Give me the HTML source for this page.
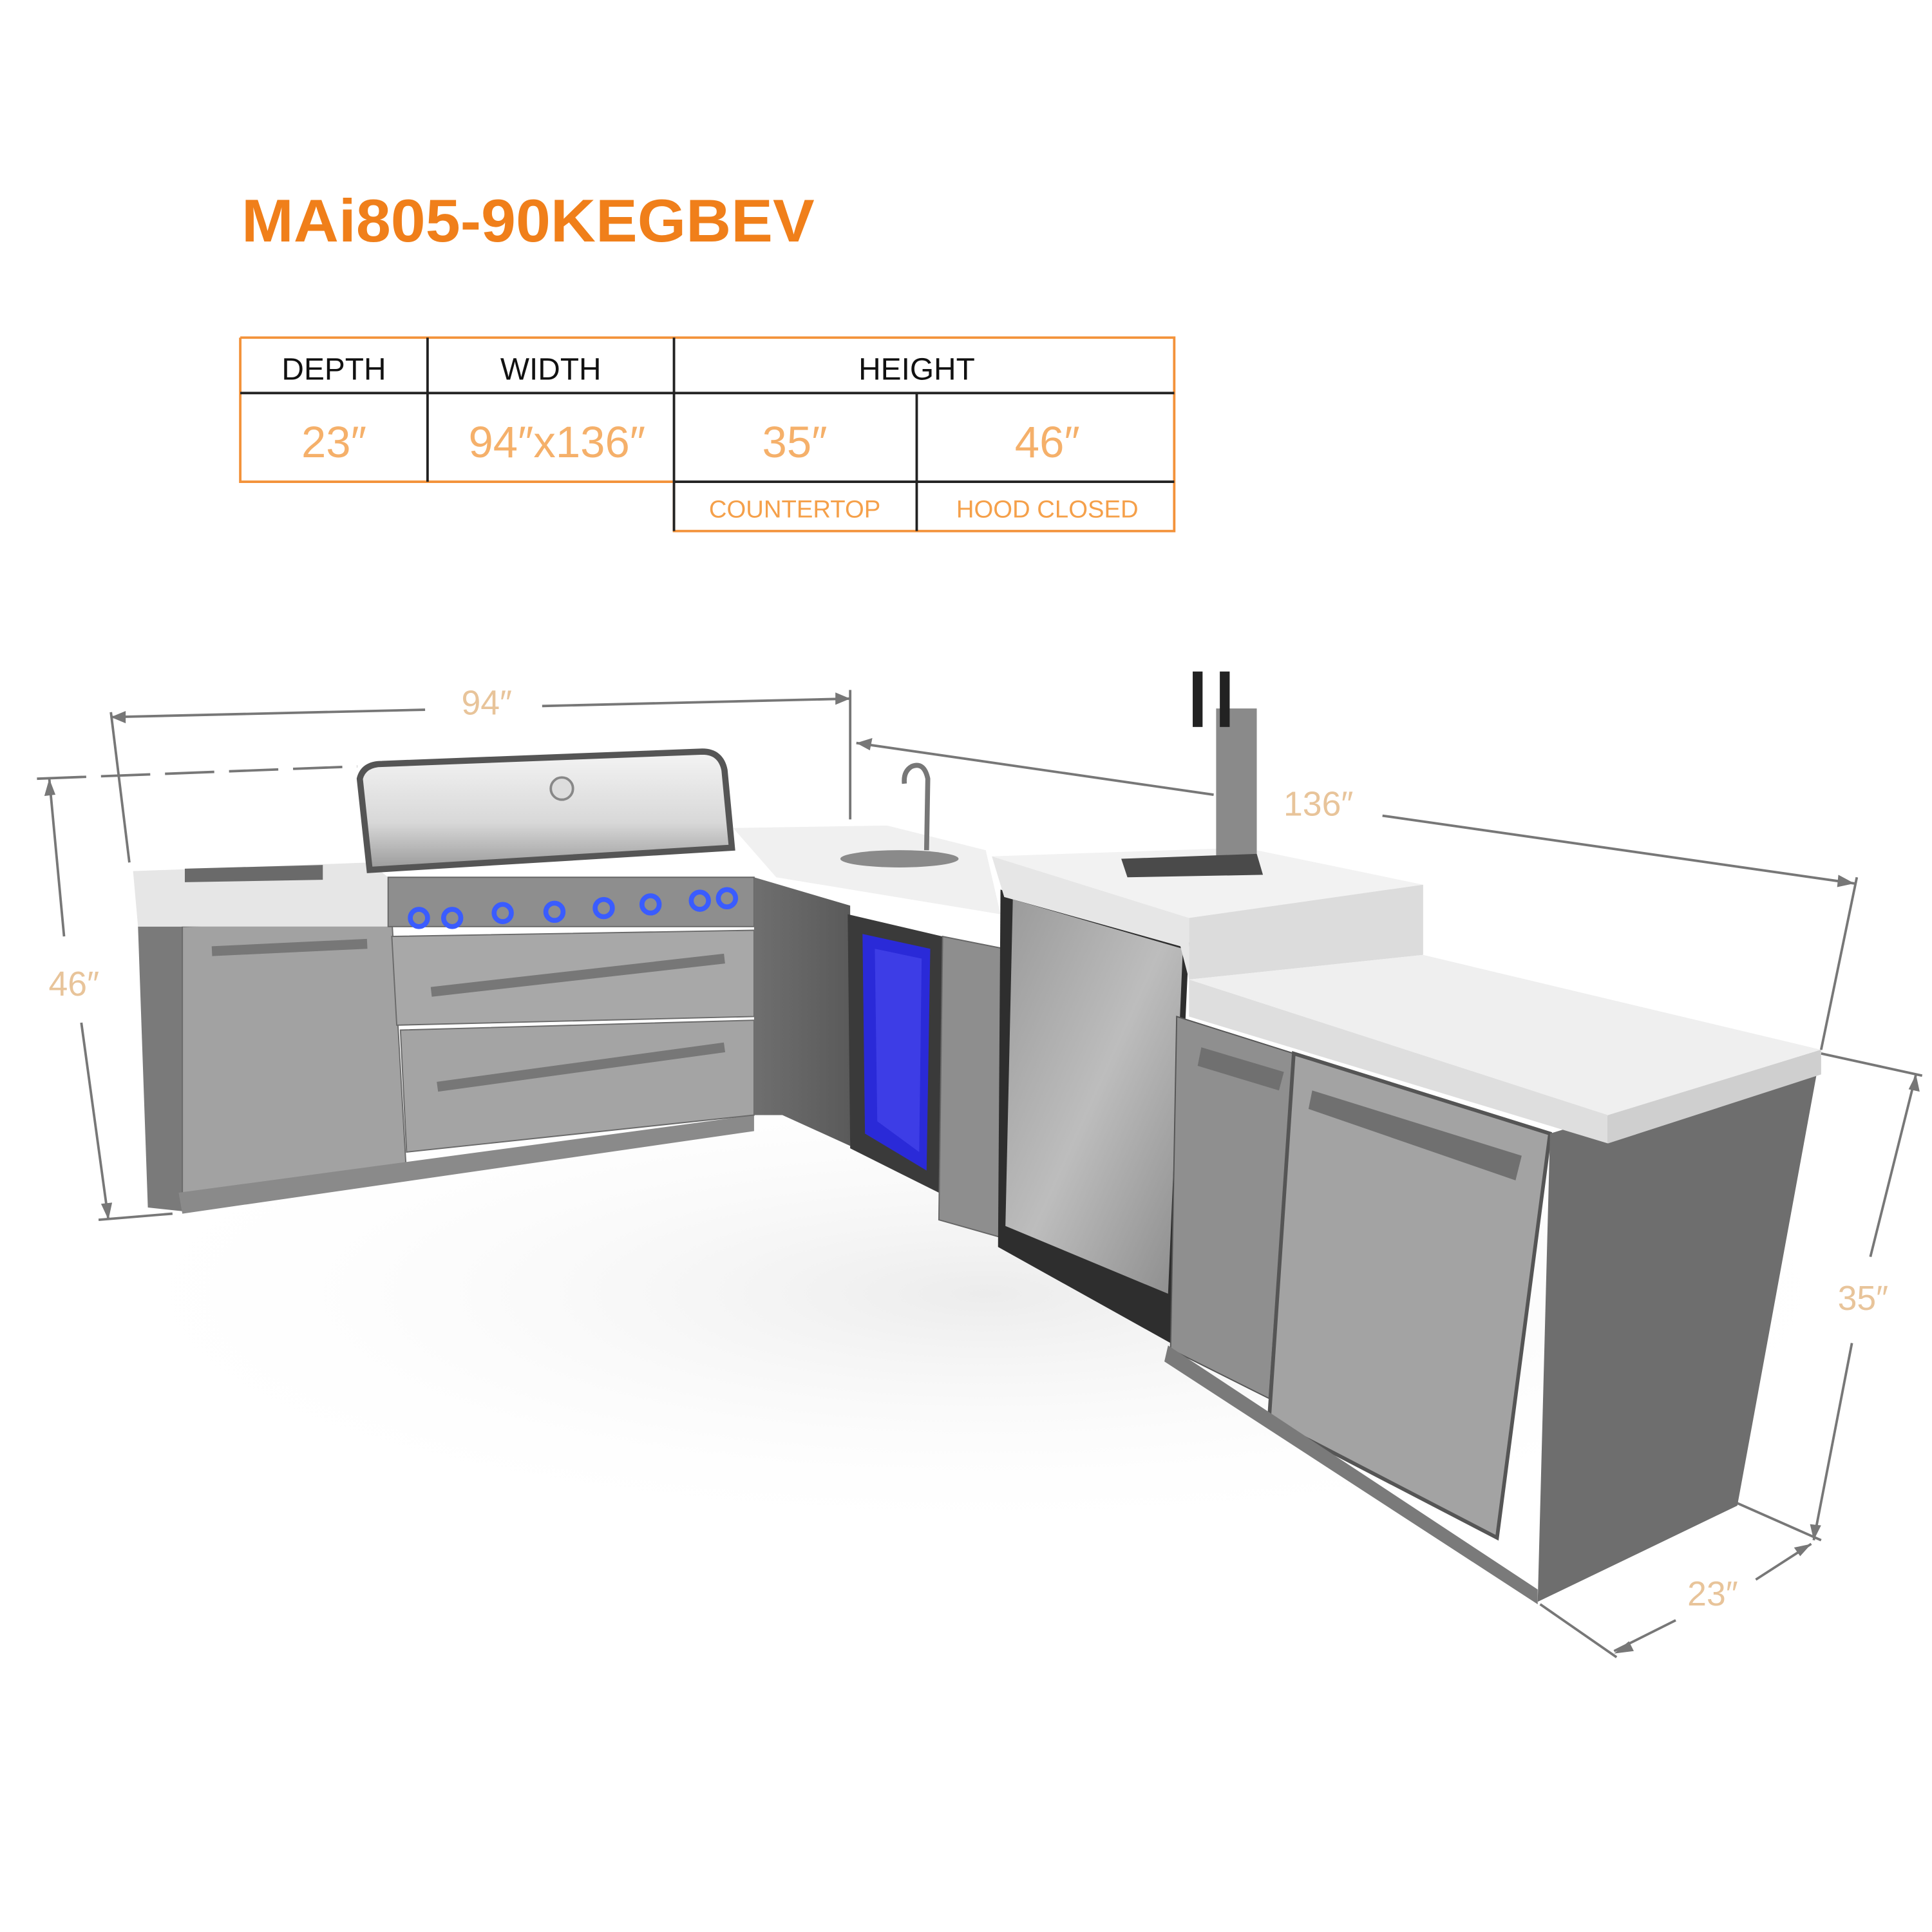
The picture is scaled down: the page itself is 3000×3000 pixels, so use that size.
<!DOCTYPE html>
<html><head><meta charset="utf-8"><style>
html,body{margin:0;padding:0;background:#fff}
svg{display:block}
</style></head><body>
<svg width="3000" height="3000" viewBox="0 0 1568 1568" xmlns="http://www.w3.org/2000/svg">
<defs>
<linearGradient id="steel" x1="0" y1="0" x2="1" y2="1"><stop offset="0" stop-color="#9a9a9a"/><stop offset="0.5" stop-color="#bdbdbd"/><stop offset="1" stop-color="#8c8c8c"/></linearGradient>
<linearGradient id="dark" x1="0" y1="0" x2="1" y2="0"><stop offset="0" stop-color="#6f6f6f"/><stop offset="1" stop-color="#5a5a5a"/></linearGradient>
<linearGradient id="hood" x1="0" y1="0" x2="0" y2="1"><stop offset="0" stop-color="#f4f4f4"/><stop offset="0.6" stop-color="#d8d8d8"/><stop offset="1" stop-color="#9a9a9a"/></linearGradient>
<radialGradient id="shadow" cx="0.5" cy="0.5" r="0.5"><stop offset="0" stop-color="#ececec"/><stop offset="1" stop-color="#fff" stop-opacity="0"/></radialGradient>
</defs>
<rect width="1568" height="1568" fill="#fff"/>
<text x="196" y="196" font-family="Liberation Sans, sans-serif" font-weight="bold" font-size="49" fill="#f07f1a" textLength="465" lengthAdjust="spacingAndGlyphs">MAi805-90KEGBEV</text>
<g fill="none" stroke-width="2">
<polyline points="195,274 953,274 953,431 547,431 547,391 195,391 195,274" stroke="#f3923a"/>
<line x1="195" y1="319" x2="953" y2="319" stroke="#222"/>
<line x1="547" y1="391" x2="953" y2="391" stroke="#222"/>
<line x1="347" y1="274" x2="347" y2="391" stroke="#222"/>
<line x1="547" y1="274" x2="547" y2="431" stroke="#222"/>
<line x1="744" y1="319" x2="744" y2="431" stroke="#222"/>
</g>
<g font-family="Liberation Sans, sans-serif" text-anchor="middle">
<text x="271" y="308" font-size="25" fill="#111">DEPTH</text>
<text x="447" y="308" font-size="25" fill="#111">WIDTH</text>
<text x="744" y="308" font-size="25" fill="#111">HEIGHT</text>
<text x="271" y="371" font-size="36" fill="#f5b06a">23″</text>
<text x="452" y="371" font-size="36" fill="#f5b06a">94″x136″</text>
<text x="645" y="371" font-size="36" fill="#f5b06a">35″</text>
<text x="850" y="371" font-size="36" fill="#f5b06a">46″</text>
<text x="645" y="420" font-size="20" fill="#f5a04a">COUNTERTOP</text>
<text x="850" y="420" font-size="20" fill="#f5a04a">HOOD CLOSED</text>
</g>
<ellipse cx="800" cy="1050" rx="750" ry="200" fill="url(#shadow)"/>
<g stroke="#777" stroke-width="2" fill="none">
<line x1="90" y1="582" x2="345" y2="576"/><line x1="440" y1="573" x2="690" y2="567"/>
<line x1="90" y1="578" x2="105" y2="700"/><line x1="690" y1="560" x2="690" y2="665"/>
<line x1="30" y1="632" x2="290" y2="622" stroke-dasharray="40,12"/>
<line x1="695" y1="603" x2="985" y2="645"/><line x1="1122" y1="662" x2="1505" y2="717"/>
<line x1="1507" y1="712" x2="1478" y2="852"/>
<line x1="40" y1="632" x2="52" y2="760"/><line x1="66" y1="830" x2="88" y2="990"/>
<line x1="80" y1="990" x2="140" y2="985"/>
<line x1="1478" y1="855" x2="1560" y2="873"/>
<line x1="1555" y1="872" x2="1518" y2="1020"/><line x1="1503" y1="1090" x2="1472" y2="1250"/>
<line x1="1410" y1="1220" x2="1478" y2="1250"/>
<line x1="1250" y1="1302" x2="1312" y2="1345"/>
<line x1="1310" y1="1340" x2="1360" y2="1315"/><line x1="1425" y1="1282" x2="1470" y2="1253"/>
</g>
<g fill="#777">
<polygon points="90,582 102,577 102,587"/><polygon points="690,567 678,562 678,572"/>
<polygon points="695,603 708,599 706,609"/><polygon points="1505,717 1492,710 1491,720"/>
<polygon points="40,632 36,646 45,645"/><polygon points="88,990 82,977 91,976"/>
<polygon points="1555,872 1549,884 1558,886"/><polygon points="1472,1250 1469,1237 1478,1238"/>
<polygon points="1310,1342 1322,1332 1326,1340"/><polygon points="1470,1253 1456,1256 1461,1263"/>
</g>
<g font-family="Liberation Sans, sans-serif" font-size="28" fill="#e8c49a" text-anchor="middle">
<text x="395" y="580">94″</text><text x="1070" y="662">136″</text>
<text x="60" y="808">46″</text><text x="1512" y="1063">35″</text><text x="1390" y="1303">23″</text>
</g>
<!-- left island -->
<polygon points="112,752 148,752 148,983 120,980" fill="#7a7a7a"/>
<polygon points="148,752 318,745 330,955 148,968" fill="#a2a2a2" stroke="#6a6a6a"/>
<line x1="172" y1="772" x2="298" y2="766" stroke="#777" stroke-width="8"/>
<polygon points="145,968 612,905 612,918 148,985" fill="#8a8a8a"/>
<polygon points="108,707 300,700 315,712 315,752 112,752" fill="#e6e6e6"/>
<polygon points="150,705 262,702 262,714 150,716" fill="#6a6a6a"/>
<polygon points="315,712 612,712 612,752 315,752" fill="#8e8e8e" stroke="#666"/>
<g fill="none" stroke="#3a5cff" stroke-width="4">
<circle cx="340" cy="745" r="7"/><circle cx="367" cy="745" r="7"/><circle cx="408" cy="741" r="7"/><circle cx="450" cy="740" r="7"/><circle cx="490" cy="737" r="7"/><circle cx="528" cy="734" r="7"/><circle cx="568" cy="731" r="7"/><circle cx="590" cy="729" r="7"/>
</g>
<polygon points="318,760 612,755 612,825 322,832" fill="#a8a8a8" stroke="#6a6a6a"/>
<line x1="350" y1="805" x2="588" y2="778" stroke="#777" stroke-width="8"/>
<polygon points="325,836 612,828 612,905 330,935" fill="#a4a4a4" stroke="#6a6a6a"/>
<line x1="355" y1="882" x2="588" y2="850" stroke="#777" stroke-width="8"/>
<path d="M292,632 Q295,620 310,620 L570,610 Q585,610 588,625 L594,688 L300,706 Z" fill="url(#hood)" stroke="#555" stroke-width="5"/>
<circle cx="456" cy="640" r="9" fill="#ddd" stroke="#888" stroke-width="2"/>
<!-- corner -->
<polygon points="612,712 690,735 690,930 635,905 612,905" fill="url(#dark)"/>
<polygon points="595,672 720,670 800,690 812,742 630,712" fill="#f0f0f0"/>
<ellipse cx="730" cy="697" rx="48" ry="7" fill="#8a8a8a"/>
<path d="M752,690 L753,632 Q750,618 740,622 Q733,626 734,636" fill="none" stroke="#777" stroke-width="4"/>
<!-- beverage fridge -->
<polygon points="688,742 765,760 762,968 690,932" fill="#3a3a3a"/>
<polygon points="700,758 755,770 752,950 702,920" fill="#2a2ad8"/>
<polygon points="710,770 748,778 746,935 712,910" fill="#4b4bf0" opacity="0.6"/>
<polygon points="765,760 815,770 815,1005 762,990" fill="#8e8e8e" stroke="#666"/>
<!-- keg fridge -->
<polygon points="812,722 965,765 950,1090 810,1012" fill="#2e2e2e"/>
<polygon points="822,730 960,770 948,1050 816,995" fill="url(#steel)"/>
<polygon points="805,695 1010,688 1155,718 965,745" fill="#f2f2f2"/>
<polygon points="805,695 965,745 965,795 958,768 815,728" fill="#e6e6e6"/>
<polygon points="965,745 1155,718 1155,775 965,795" fill="#dcdcdc"/>
<rect x="987" y="575" width="33" height="120" fill="#8a8a8a"/>
<polygon points="910,697 1020,693 1025,710 915,712" fill="#4a4a4a"/>
<rect x="968" y="545" width="8" height="45" fill="#222"/><rect x="990" y="545" width="8" height="45" fill="#222"/>
<!-- right run -->
<polygon points="955,825 1050,855 1030,1135 950,1095" fill="#8f8f8f" stroke="#555"/>
<polygon points="1050,855 1258,920 1215,1248 1030,1152" fill="#a3a3a3" stroke="#555" stroke-width="3"/>
<polygon points="1065,885 1235,938 1230,958 1062,900" fill="#707070"/>
<polygon points="975,850 1042,870 1038,885 972,865" fill="#707070"/>
<polygon points="1258,920 1478,852 1410,1222 1248,1300" fill="#6e6e6e"/>
<polygon points="948,1092 1248,1290 1248,1302 945,1105" fill="#7a7a7a"/>
<polygon points="965,795 1155,775 1478,852 1305,905" fill="#efefef"/>
<polygon points="965,795 1305,905 1305,928 965,825" fill="#dedede"/>
<polygon points="1305,905 1478,852 1478,872 1305,928" fill="#cfcfcf"/>
</svg>
</body></html>
